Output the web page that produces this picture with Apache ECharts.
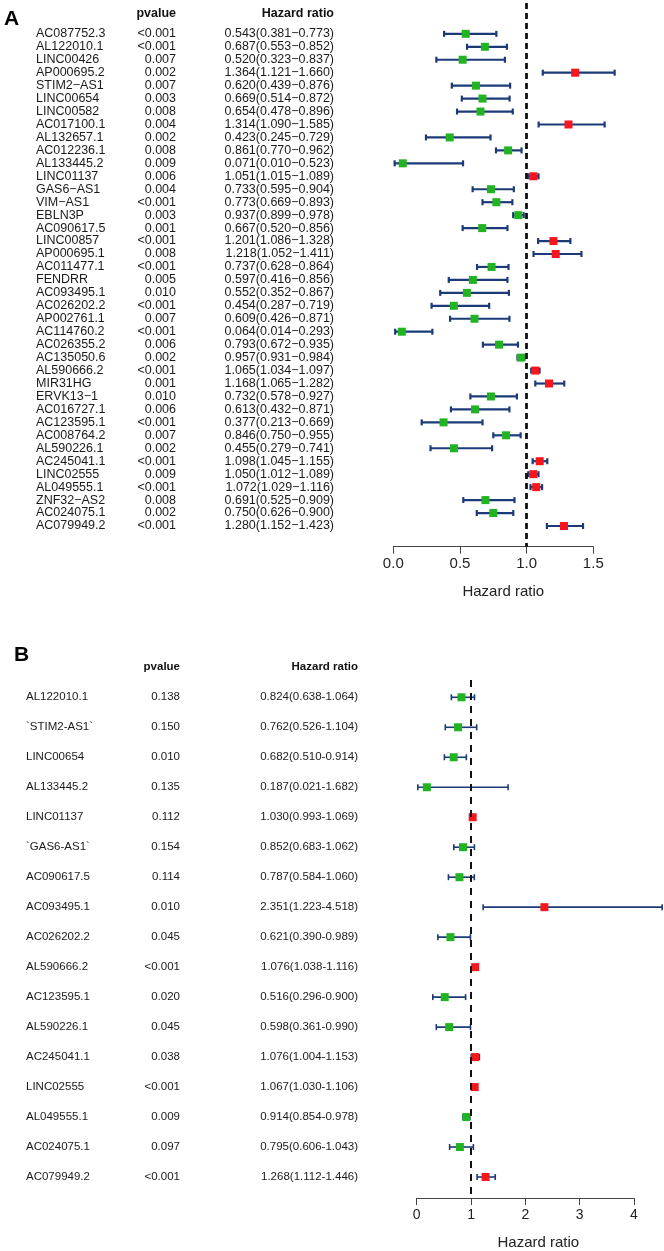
<!DOCTYPE html>
<html>
<head>
<meta charset="utf-8">
<script src="https://cdn.jsdelivr.net/npm/echarts@6/dist/echarts.min.js"></script>
<style>
  html, body { margin: 0; padding: 0; background: #fff; }
  #chart { width: 664px; height: 1251px; }
</style>
</head>
<body>
<div id="chart"></div>
<script>
// panel A data
var namesA = ['AC087752.3', 'AL122010.1', 'LINC00426', 'AP000695.2', 'STIM2\u2212AS1', 'LINC00654', 'LINC00582',
  'AC017100.1', 'AL132657.1', 'AC012236.1', 'AL133445.2', 'LINC01137', 'GAS6\u2212AS1', 'VIM\u2212AS1', 'EBLN3P',
  'AC090617.5', 'LINC00857', 'AP000695.1', 'AC011477.1', 'FENDRR', 'AC093495.1', 'AC026202.2', 'AP002761.1',
  'AC114760.2', 'AC026355.2', 'AC135050.6', 'AL590666.2', 'MIR31HG', 'ERVK13\u22121', 'AC016727.1', 'AC123595.1',
  'AC008764.2', 'AL590226.1', 'AC245041.1', 'LINC02555', 'AL049555.1', 'ZNF32\u2212AS2', 'AC024075.1', 'AC079949.2']
var pvalA = ['<0.001', '<0.001', '0.007', '0.002', '0.007', '0.003', '0.008', '0.004', '0.002', '0.008', '0.009',
  '0.006', '0.004', '<0.001', '0.003', '0.001', '<0.001', '0.008', '<0.001', '0.005', '0.010', '<0.001', '0.007',
  '<0.001', '0.006', '0.002', '<0.001', '0.001', '0.010', '0.006', '<0.001', '0.007', '0.002', '<0.001', '0.009',
  '<0.001', '0.008', '0.002', '<0.001']
var hrA = [0.543, 0.687, 0.520, 1.364, 0.620, 0.669, 0.654, 1.314, 0.423, 0.861, 0.071, 1.051, 0.733, 0.773, 0.937,
  0.667, 1.201, 1.218, 0.737, 0.597, 0.552, 0.454, 0.609, 0.064, 0.793, 0.957, 1.065, 1.168, 0.732, 0.613, 0.377,
  0.846, 0.455, 1.098, 1.050, 1.072, 0.691, 0.750, 1.280]
var lowA = [0.381, 0.553, 0.323, 1.121, 0.439, 0.514, 0.478, 1.090, 0.245, 0.770, 0.010, 1.015, 0.595, 0.669, 0.899,
  0.520, 1.086, 1.052, 0.628, 0.416, 0.352, 0.287, 0.426, 0.014, 0.672, 0.931, 1.034, 1.065, 0.578, 0.432, 0.213,
  0.750, 0.279, 1.045, 1.012, 1.029, 0.525, 0.626, 1.152]
var highA = [0.773, 0.852, 0.837, 1.660, 0.876, 0.872, 0.896, 1.585, 0.729, 0.962, 0.523, 1.089, 0.904, 0.893, 0.978,
  0.856, 1.328, 1.411, 0.864, 0.856, 0.867, 0.719, 0.871, 0.293, 0.935, 0.984, 1.097, 1.282, 0.927, 0.871, 0.669,
  0.955, 0.741, 1.155, 1.089, 1.116, 0.909, 0.900, 1.423]
var ticksA = ['0.0', '0.5', '1.0', '1.5']

// panel B data
var namesB = ['AL122010.1', '`STIM2-AS1`', 'LINC00654', 'AL133445.2', 'LINC01137', '`GAS6-AS1`', 'AC090617.5',
  'AC093495.1', 'AC026202.2', 'AL590666.2', 'AC123595.1', 'AL590226.1', 'AC245041.1', 'LINC02555', 'AL049555.1',
  'AC024075.1', 'AC079949.2']
var pvalB = ['0.138', '0.150', '0.010', '0.135', '0.112', '0.154', '0.114', '0.010', '0.045', '<0.001', '0.020',
  '0.045', '0.038', '<0.001', '0.009', '0.097', '<0.001']
var hrB = [0.824, 0.762, 0.682, 0.187, 1.030, 0.852, 0.787, 2.351, 0.621, 1.076, 0.516, 0.598, 1.076, 1.067, 0.914, 0.795, 1.268]
var lowB = [0.638, 0.526, 0.510, 0.021, 0.993, 0.683, 0.584, 1.223, 0.390, 1.038, 0.296, 0.361, 1.004, 1.030, 0.854, 0.606, 1.112]
var highB = [1.064, 1.104, 0.914, 1.682, 1.069, 1.062, 1.060, 4.518, 0.989, 1.116, 0.900, 0.990, 1.153, 1.106, 0.978, 1.043, 1.446]
var ticksB = ['0', '1', '2', '3', '4']

var FONT = '"Liberation Sans", Arial, sans-serif'
var NAVY = '#1c3a78'
var RED = '#f5161e'
var GREEN = '#22b322'

function rows(hr, lo, hi) {
  return hr.map(function (v, i) { return [i, v, lo[i], hi[i]] })
}

function forestItem(lineW, cap, box) {
  return function (params, api) {
    var i = api.value(0)
    var pc = api.coord([api.value(1), i])
    var p0 = api.coord([api.value(2), i])
    var p1 = api.coord([api.value(3), i])
    var y = pc[1]
    var st = { stroke: NAVY, lineWidth: lineW }
    return {
      type: 'group',
      children: [
        { type: 'line', shape: { x1: p0[0], y1: y, x2: p1[0], y2: y }, style: st },
        { type: 'line', shape: { x1: p0[0], y1: y - cap, x2: p0[0], y2: y + cap }, style: st },
        { type: 'line', shape: { x1: p1[0], y1: y - cap, x2: p1[0], y2: y + cap }, style: st },
        { type: 'rect', shape: { x: pc[0] - box / 2, y: y - box / 2, width: box, height: box },
          style: { fill: api.value(1) > 1 ? RED : GREEN } }
      ]
    }
  }
}

function textItem(names, pv, hr, lo, hi, dash, cols, size) {
  return function (params, api) {
    var i = api.value(0)
    var y = api.coord([0, i])[1]
    var base = { fontFamily: FONT, fontSize: size, fill: '#1a1a1a', verticalAlign: 'middle' }
    var hrTxt = hr[i].toFixed(3) + '(' + lo[i].toFixed(3) + dash + hi[i].toFixed(3) + ')'
    return {
      type: 'group',
      children: [
        { type: 'text', x: cols[0], y: y, style: Object.assign({ text: names[i], align: 'left' }, base) },
        { type: 'text', x: cols[1], y: y, style: Object.assign({ text: pv[i], align: 'right' }, base) },
        { type: 'text', x: cols[2], y: y, style: Object.assign({ text: hrTxt, align: 'right' }, base) }
      ]
    }
  }
}

function xAxisOf(gridIndex, max, interval, ticks, labelSize, nameGap, namePad) {
  return {
    type: 'value', gridIndex: gridIndex, min: 0, max: max, interval: interval,
    splitLine: { show: false },
    axisLine: { show: true, onZero: false, lineStyle: { color: '#444', width: 1 } },
    axisTick: { show: true, length: 7, lineStyle: { color: '#444' } },
    axisLabel: {
      fontFamily: FONT, fontSize: labelSize, color: '#222', margin: 10,
      formatter: function (v) { return ticks[Math.round(v / interval)] }
    },
    name: 'Hazard ratio', nameLocation: 'middle', nameGap: nameGap,
    nameTextStyle: { fontFamily: FONT, fontSize: 15, color: '#222', padding: [0, 0, 0, namePad] }
  }
}

function refLine(width, dash) {
  return {
    silent: true, symbol: 'none', label: { show: false },
    lineStyle: { color: '#111', width: width, type: dash },
    data: [{ xAxis: 1 }]
  }
}

var myChart = echarts.init(document.getElementById('chart'))

var option = {
  animation: false,
  grid: [
    { left: 393.3, width: 200, top: 3, height: 543.7 },
    { left: 416.7, width: 217.3, top: 680, height: 518.3 }
  ],
  xAxis: [
    xAxisOf(0, 1.5, 0.5, ticksA, 15, 38, 20),
    xAxisOf(1, 4, 1, ticksB, 14, 37, 26)
  ],
  yAxis: [
    { type: 'value', gridIndex: 0, min: -2.38, max: 39.6, inverse: true, show: false },
    { type: 'value', gridIndex: 1, min: -0.577, max: 16.7, inverse: true, show: false }
  ],
  graphic: [
    { type: 'text', left: 4, top: 9, style: { text: 'A', fontFamily: FONT, fontSize: 21, fontWeight: 'bold', fill: '#000' } },
    { type: 'text', x: 176, y: 14, style: { text: 'pvalue', align: 'right', verticalAlign: 'middle', fontFamily: FONT, fontSize: 12.5, fontWeight: 'bold', fill: '#111' } },
    { type: 'text', x: 334, y: 14, style: { text: 'Hazard ratio', align: 'right', verticalAlign: 'middle', fontFamily: FONT, fontSize: 12.5, fontWeight: 'bold', fill: '#111' } },
    { type: 'text', left: 14, top: 645, style: { text: 'B', fontFamily: FONT, fontSize: 21, fontWeight: 'bold', fill: '#000' } },
    { type: 'text', x: 180, y: 667, style: { text: 'pvalue', align: 'right', verticalAlign: 'middle', fontFamily: FONT, fontSize: 11.5, fontWeight: 'bold', fill: '#111' } },
    { type: 'text', x: 358, y: 667, style: { text: 'Hazard ratio', align: 'right', verticalAlign: 'middle', fontFamily: FONT, fontSize: 11.5, fontWeight: 'bold', fill: '#111' } }
  ],
  series: [
    {
      type: 'custom', xAxisIndex: 0, yAxisIndex: 0, clip: false,
      data: rows(hrA, lowA, highA),
      encode: { x: [1, 2, 3], y: 0 },
      renderItem: forestItem(2.2, 3, 8),
      markLine: refLine(2.8, [6, 4]),
      z: 3
    },
    {
      type: 'custom', xAxisIndex: 0, yAxisIndex: 0, clip: false,
      data: rows(hrA, lowA, highA),
      encode: { x: [1], y: 0 },
      renderItem: textItem(namesA, pvalA, hrA, lowA, highA, '\u2212', [36, 176, 334], 12.5)
    },
    {
      type: 'custom', xAxisIndex: 1, yAxisIndex: 1, clip: false,
      data: rows(hrB, lowB, highB),
      encode: { x: [1, 2, 3], y: 0 },
      renderItem: forestItem(1.6, 3, 8),
      markLine: refLine(2, [7, 6]),
      z: 3
    },
    {
      type: 'custom', xAxisIndex: 1, yAxisIndex: 1, clip: false,
      data: rows(hrB, lowB, highB),
      encode: { x: [1], y: 0 },
      renderItem: textItem(namesB, pvalB, hrB, lowB, highB, '-', [26, 180, 358], 11.5)
    }
  ]
}

myChart.setOption(option)
</script>
</body>
</html>
